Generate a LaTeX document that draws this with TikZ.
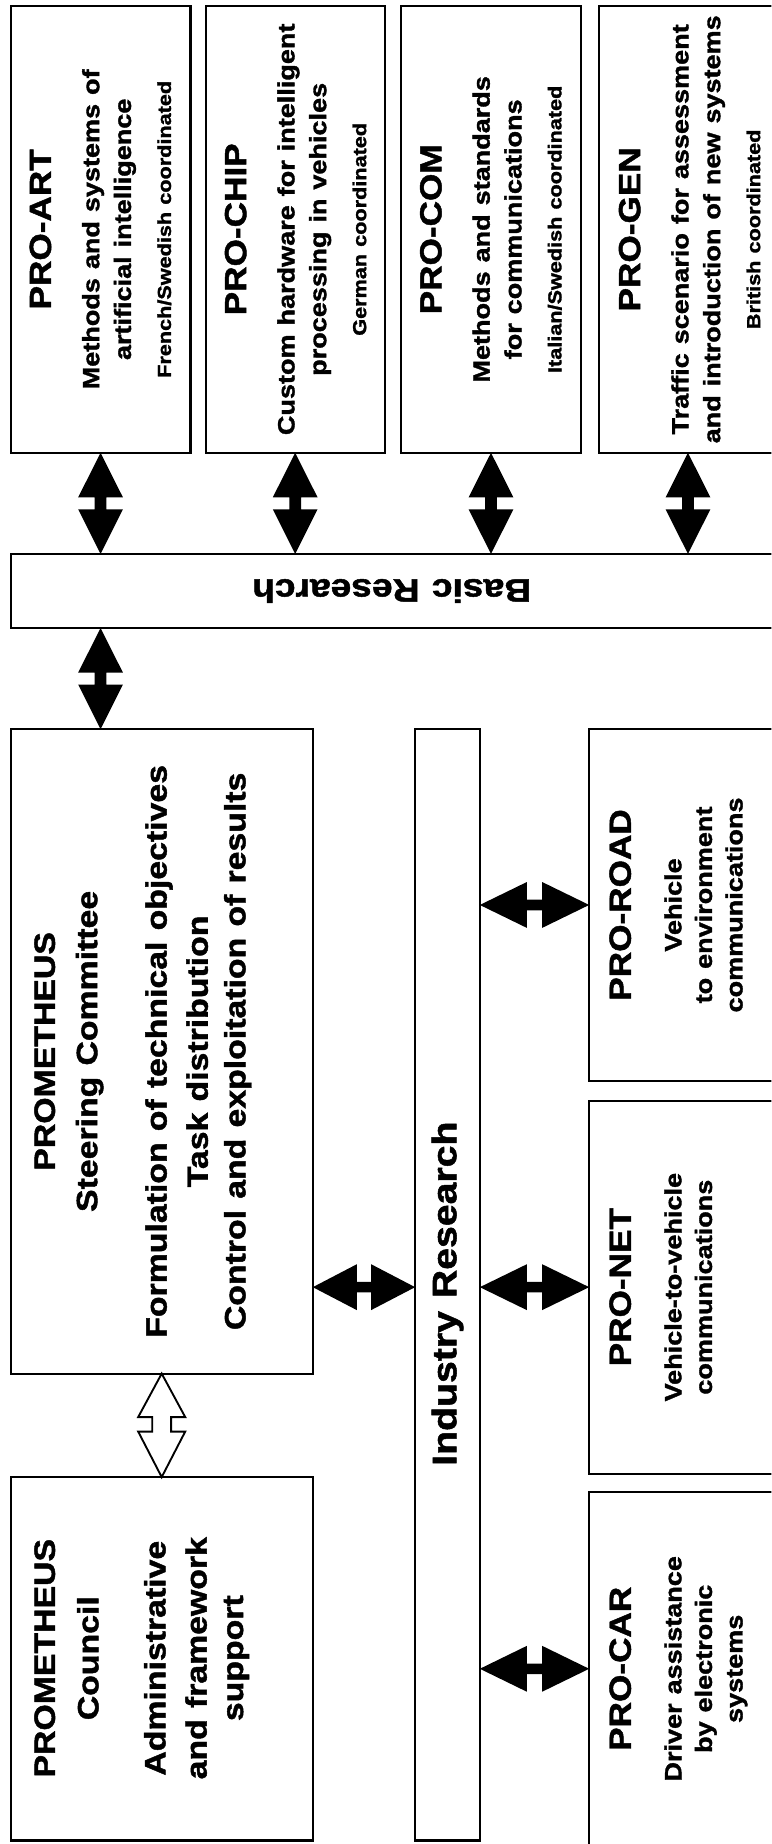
\documentclass[tikz,border=0pt]{standalone}
\usepackage{fontspec}
\setmainfont{Liberation Sans}[FakeStretch=1.15, BoldFeatures={FakeBold=1.5}]
\usetikzlibrary{calc}
\newcommand\fsz[2]{\fontsize{#1pt}{#2pt}\selectfont\spaceskip=\dimexpr #1pt*38/100\relax}
% double arrow with broken shaft: style, from, to, frac1, frac2, half width, half neck
\newcommand\dblar[7]{\path[#1] (#2)
 -- ($(#2)!#4!(#3)!#6!90:(#3)$) -- ($(#2)!#4!(#3)!#7!90:(#3)$)
 -- ($(#2)!#5!(#3)!#7!90:(#3)$) -- ($(#2)!#5!(#3)!#6!90:(#3)$)
 -- (#3)
 -- ($(#2)!#5!(#3)!#6!-90:(#3)$) -- ($(#2)!#5!(#3)!#7!-90:(#3)$)
 -- ($(#2)!#4!(#3)!#7!-90:(#3)$) -- ($(#2)!#4!(#3)!#6!-90:(#3)$) -- cycle;}
\tikzset{
 box/.style={draw, line width=1.8pt, inner sep=0pt, outer sep=0pt, anchor=north west},
 txt/.style={rotate=90, anchor=north, align=center, inner sep=0pt, font=\bfseries, text width=#1},
 txt/.default=440pt,
 fillar/.style={fill=black},
 hollowar/.style={draw=black, fill=white, line width=1.6pt, line join=miter}
}
\begin{document}
\begin{tikzpicture}[x=1pt,y=-1pt]
\useasboundingbox (0,0) rectangle (656,1568);
\clip (0,0) rectangle (656,1568);
\fill[white] (0,0) rectangle (656,1568);
% boxes
\node[box, minimum width=153pt, minimum height=380pt] (art) at (9,5) {};
\node[box, minimum width=152pt, minimum height=380pt] (chip) at (175,5) {};
\node[box, minimum width=153pt, minimum height=380pt] (com) at (341,5) {};
\node[box, minimum width=160pt, minimum height=380pt] (gen) at (509,5) {};
\node[box, minimum width=660pt, minimum height=63pt] (basic) at (9,471) {};
\node[box, minimum width=257pt, minimum height=548pt] (steer) at (9,620) {};
\node[box, minimum width=55pt, minimum height=945pt] (ind) at (353,620) {};
\node[box, minimum width=167pt, minimum height=299pt] (road) at (501,620) {};
\node[box, minimum width=167pt, minimum height=317pt] (net) at (501,936) {};
\node[box, minimum width=167pt, minimum height=310pt] (car) at (501,1269) {};
\node[box, minimum width=257pt, minimum height=309pt] (council) at (9,1256) {};
% texts
\node[txt] (artT) at (25,195) {\fsz{26}{30}PRO-ART\par\fsz{20}{41}Methods and systems of\par\fsz{20}{27}artificial intelligence\par\fsz{16}{34}French/Swedish coordinated\par};
\node[txt] (chipT) at (191,195) {\fsz{26}{30}PRO-CHIP\par\fsz{20}{41}Custom hardware for intelligent\par\fsz{20}{27}processing in vehicles\par\fsz{16}{34}German coordinated\par};
\node[txt] (comT) at (357,195) {\fsz{26}{30}PRO-COM\par\fsz{20}{41}Methods and standards\par\fsz{20}{27}for communications\par\fsz{16}{34}Italian/Swedish coordinated\par};
\node[txt] (genT) at (526,195) {\fsz{26}{30}PRO-GEN\par\fsz{20}{41}Traffic scenario for assessment\par\fsz{20}{27}and introduction of new systems\par\fsz{16}{34}British coordinated\par};
\node[rotate=180, font=\bfseries\fsz{27.5}{32}, inner sep=0pt] (basicT) at (333,502.5) {Basic Research};
\node[txt=560pt] (steerT) at (29,894) {\fsz{25}{36}PROMETHEUS\par Steering Committee\par\fsz{25}{59}Formulation of technical objectives\par\fsz{25}{35}Task distribution\par\fsz{25}{32}Control and exploitation of results\par};
\node[txt=320pt] (councilT) at (29,1410) {\fsz{25}{37}PROMETHEUS\par Council\par\fsz{25}{57}Administrative\par\fsz{25}{35}and framework\par\fsz{25}{31}support\par};
\node[rotate=90, font=\bfseries\fsz{29}{32}, inner sep=0pt] (indT) at (380.5,1100) {Industry Research};
\node[txt=300pt] (roadT) at (518,769.5) {\fsz{26}{30}PRO-ROAD\par\fsz{20}{43}Vehicle\par\fsz{20}{26}to environment\par communications\par};
\node[txt=300pt] (netT) at (518,1094.5) {\fsz{26}{30}PRO-NET\par\fsz{20}{43}Vehicle-to-vehicle\par\fsz{20}{26}communications\par};
\node[txt=300pt] (carT) at (518,1419) {\fsz{26}{30}PRO-CAR\par\fsz{20}{43}Driver assistance\par\fsz{20}{26}by electronic\par systems\par};
% connector end points
\coordinate (artB) at (art.south |- basic.north);
\coordinate (chipB) at (chip.south |- basic.north);
\coordinate (comB) at (com.south |- basic.north);
\coordinate (genS) at (585,385);
\coordinate (genB) at (585,471);
\coordinate (basS) at (art.south |- basic.south);
\coordinate (stN) at (art.south |- steer.north);
\coordinate (stE) at (steer.east |- net.west);
\coordinate (indW) at (ind.west |- net.west);
\coordinate (indE1) at (ind.east |- road.west);
\coordinate (indE2) at (ind.east |- net.west);
\coordinate (carW) at (501,1419);
\coordinate (indE3) at (ind.east |- carW);
% arrows
\dblar{fillar}{art.south}{artB}{0.44}{0.56}{19pt}{5pt}
\dblar{fillar}{chip.south}{chipB}{0.44}{0.56}{19pt}{5pt}
\dblar{fillar}{com.south}{comB}{0.44}{0.56}{19pt}{5pt}
\dblar{fillar}{genS}{genB}{0.44}{0.56}{19pt}{5pt}
\dblar{fillar}{basS}{stN}{0.44}{0.56}{19pt}{5pt}
\dblar{fillar}{stE}{indW}{0.43}{0.57}{19.5pt}{4.5pt}
\dblar{fillar}{indE1}{road.west}{0.43}{0.57}{19.5pt}{4.5pt}
\dblar{fillar}{indE2}{net.west}{0.43}{0.57}{19.5pt}{4.5pt}
\dblar{fillar}{indE3}{carW}{0.43}{0.57}{19.5pt}{4.5pt}
\dblar{hollowar}{steer.south}{council.north}{0.42}{0.56}{20pt}{8pt}
\end{tikzpicture}
\end{document}
